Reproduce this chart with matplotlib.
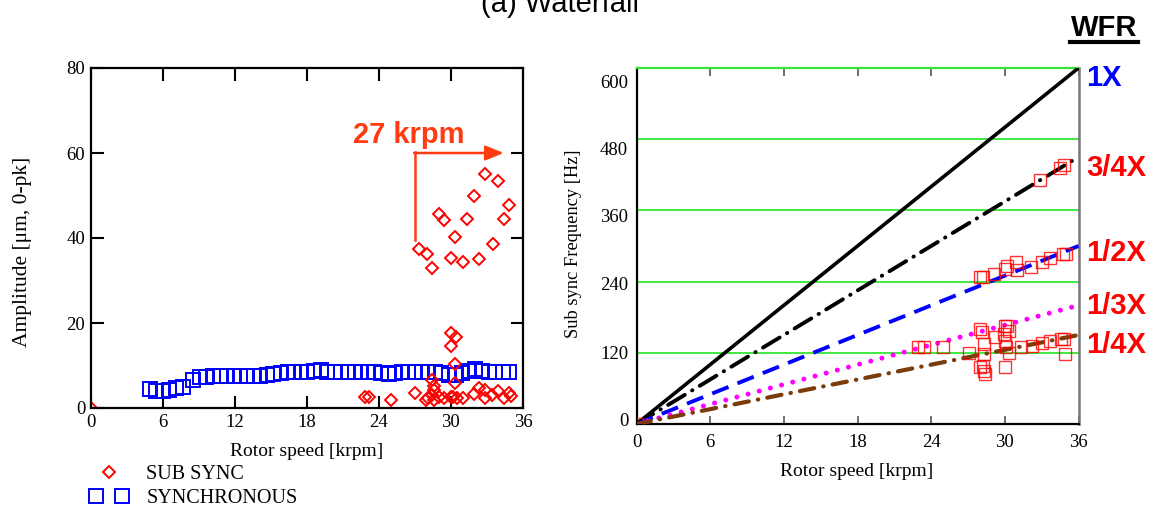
import matplotlib
matplotlib.use('Agg')
import matplotlib.pyplot as plt
from matplotlib.legend_handler import HandlerLine2D
from matplotlib.lines import Line2D

plt.rcParams['font.family'] = 'Liberation Serif'

# left panel: amplitude vs rotor speed
sync_krpm = [4.9, 5.4, 6.0, 6.5, 7.1, 7.7, 8.5, 9.1, 9.6, 10.2, 10.8, 11.3, 11.9, 12.4, 13.0,
             13.6, 14.1, 14.7, 15.2, 15.8, 16.4, 16.9, 17.5, 18.0, 18.6, 19.2, 19.7, 20.3,
             20.8, 21.4, 22.0, 22.5, 23.1, 23.6, 24.2, 24.8, 25.3, 25.9, 26.4, 27.0, 27.6,
             28.1, 28.7, 29.2, 29.8, 30.4, 30.9, 31.5, 32.0, 32.6, 33.2, 33.7, 34.3, 34.8]
sync_amp = [4.4, 4.0, 4.0, 4.2, 4.6, 5.0, 6.7, 7.2, 7.4, 7.5, 7.5, 7.5, 7.5, 7.5, 7.5,
            7.6, 7.6, 7.8, 8.1, 8.3, 8.4, 8.4, 8.4, 8.5, 8.6, 8.9, 8.5, 8.4,
            8.4, 8.4, 8.4, 8.4, 8.4, 8.4, 8.3, 8.0, 8.2, 8.4, 8.4, 8.4, 8.4,
            8.4, 8.4, 8.3, 7.8, 7.8, 8.2, 8.8, 9.2, 8.6, 8.4, 8.4, 8.4, 8.4]

sub_krpm = [0.0, 27.35, 28.0, 28.4, 29.0, 29.4, 30.0, 30.3, 31.0, 31.3, 31.9, 32.3, 32.8,
            33.5, 33.9, 34.4, 34.8,
            30.0, 30.4, 30.0, 30.3, 30.3,
            22.85, 23.2, 25.0, 27.0, 28.4, 28.1, 28.4, 28.6, 29.0, 29.4, 30.0, 30.2, 30.5,
            31.0, 31.9, 32.3, 32.8, 32.8, 33.4, 33.9, 34.4, 34.8, 35.0, 27.9, 28.6, 28.6]
sub_amp = [0.0, 37.3, 36.2, 33.0, 45.6, 44.2, 35.2, 40.3, 34.3, 44.4, 50.0, 35.1, 55.1,
           38.7, 53.3, 44.5, 47.8,
           17.6, 16.6, 14.7, 10.3, 5.8,
           2.7, 2.6, 1.9, 3.6, 6.6, 2.3, 3.1, 4.3, 2.7, 2.3, 2.7, 2.6, 2.3,
           2.3, 3.3, 4.6, 2.3, 4.3, 3.1, 3.9, 2.3, 3.5, 2.9, 1.9, 5.1, 1.9]

# right panel: sub synchronous frequency vs rotor speed
wfr_krpm = [0.0, 22.9, 23.4, 25.0, 27.1, 28.0, 28.1, 28.3, 28.3, 28.2, 28.3, 28.4, 28.0,
            29.2, 30.0, 30.2, 30.3, 29.9, 30.0, 30.1, 30.3, 30.0, 31.3, 32.2, 33.0, 33.7,
            34.6, 34.8, 34.9,
            28.0, 28.2, 29.1, 30.0, 30.2, 30.9, 31.0, 32.1, 33.0, 33.7, 34.7, 35.0,
            32.9, 34.5, 34.8]
wfr_hz = [0, 130, 130, 130, 120, 160, 155, 135, 118, 98, 90, 85, 96,
          146, 166, 166, 157, 152, 140, 129, 120, 96, 129, 132, 137, 140,
          143, 143, 118,
          248, 248, 253, 262, 267, 273, 259, 264, 273, 279, 287, 287,
          411, 431, 436]

order_names = ['1X', '3/4X', '1/2X', '1/3X', '1/4X']
order_ends_krpm = [0, 36]
order_ends_hz = [[0, 600], [0, 450], [0, 300], [0, 200], [0, 150]]
grid_hz = [120, 240, 360, 480, 600]
x_ticks = [0, 6, 12, 18, 24, 30, 36]
amp_ticks = [0, 20, 40, 60, 80]
hz_labels = ['0', '120', '240', '360', '480', '600']
hz_label_pos = [7, 121, 237, 352, 464, 577]

W, H = 1151, 517
fig = plt.figure(figsize=(W / 100, H / 100), dpi=100)

# ---- left: waterfall amplitude
ax1 = fig.add_axes([90.9 / W, 109 / H, 432 / W, 340 / H])
ax1.plot(sync_krpm, sync_amp, ls='none', marker='s', ms=9.5, mfc='none', mec='#0000ff',
         mew=1.4, label='SYNCHRONOUS')
ax1.plot(sub_krpm, sub_amp, ls='none', marker='D', ms=6.5, mfc='none', mec='#ff0000',
         mew=1.4, label='SUB SYNC')
ax1.set_xlim(0, 36)
ax1.set_ylim(0, 80)
ax1.set_xticks(x_ticks)
ax1.set_yticks(amp_ticks)
ax1.tick_params(direction='in', length=9, width=1.5, top=True, right=True,
                labelsize=13.5, pad=4)
for s in ax1.spines.values():
    s.set_linewidth(1.6)

orange = '#ff3b12'
ax1.plot([27, 27], [39.5, 60.3], color=orange, lw=1.8)
ax1.annotate('', xy=(34.4, 60), xytext=(26.93, 60),
             arrowprops=dict(arrowstyle='-|>,head_length=1.1,head_width=0.45',
                             color=orange, lw=1.8, shrinkA=0, shrinkB=0))
ax1.text(26.5, 64.2, '27 krpm', color=orange, fontsize=21, fontweight='bold',
         family='Liberation Sans', ha='center', va='center')

fig.text(23 / W, 1 - 252 / H, 'Amplitude [μm, 0-pk]', rotation=90, ha='center',
         va='center', fontsize=15.5)
fig.text(307 / W, 1 - 452 / H, 'Rotor speed [krpm]', ha='center', va='center', fontsize=14)

h_sync, h_sub = ax1.get_lines()[0], ax1.get_lines()[1]
fig.legend([h_sub, h_sync], ['SUB SYNC', 'SYNCHRONOUS'], loc='upper left',
           bbox_to_anchor=(90 / W, 1 - 465 / H), frameon=False, fontsize=14.5,
           handlelength=1.9, handletextpad=0.9, labelspacing=0.26, borderpad=0,
           borderaxespad=0,
           handler_map={h_sub: HandlerLine2D(numpoints=1),
                        h_sync: HandlerLine2D(numpoints=2)})

# ---- right: waterfall frequency
ax2 = fig.add_axes([636.5 / W, 93 / H, 442 / W, 356 / H])
for g in grid_hz:
    ax2.axhline(g, color='#33e633', lw=1.3, zorder=1)
styles = [dict(color='black', ls='-', lw=2.6),
          dict(color='black', ls=(0, (5, 2.2, 0.1, 2.2)), lw=2.8, dash_capstyle='round'),
          dict(color='#0000ff', ls=(0, (4.5, 2.5)), lw=2.8),
          dict(color='#ff00ff', ls=(0, (0.01, 2.3)), lw=3.6, dash_capstyle='round'),
          dict(color='#7a3c0a', ls=(0, (3.5, 2.2, 0.1, 2.2)), lw=3.0, dash_capstyle='round')]
for hz, st in zip(order_ends_hz, styles):
    ax2.plot(order_ends_krpm, hz, zorder=3, **st)
ax2.plot(wfr_krpm, wfr_hz, ls='none', marker='s', ms=8.5, mfc='none', mec='#ff0000',
         mew=1.0, alpha=0.8, zorder=4)
ax2.set_xlim(0, 36)
ax2.set_ylim(0, 600)
ax2.set_xticks(x_ticks)
ax2.set_yticks(hz_label_pos, hz_labels)
ax2.tick_params(axis='x', direction='in', length=6, width=1.2, top=True, colors='#555555',
                labelcolor='black', labelsize=13.5, pad=7)
ax2.tick_params(axis='y', length=0, labelsize=13.5, pad=6)
ax2.spines['left'].set_linewidth(1.6)
ax2.spines['bottom'].set_linewidth(1.6)
ax2.spines['right'].set_color('#777777')
ax2.spines['right'].set_linewidth(1.8)
ax2.spines['top'].set_color('#33e633')
ax2.spines['top'].set_linewidth(1.6)

fig.text(574 / W, 1 - 244 / H, 'Sub sync Frequency [Hz]', rotation=90, ha='center',
         va='center', fontsize=13.3)
fig.text(857 / W, 1 - 472 / H, 'Rotor speed [krpm]', ha='center', va='center', fontsize=14)

label_y = [78, 168, 253, 306, 345]
label_c = ['#0000ff', '#ff0000', '#ff0000', '#ff0000', '#ff0000']
for name, yy, c in zip(order_names, label_y, label_c):
    fig.text(1086 / W, 1 - yy / H, name, color=c, fontsize=21, fontweight='bold',
             family='Liberation Sans', ha='left', va='center')

fig.text(1104 / W, 1 - 28 / H, 'WFR', fontsize=21, fontweight='bold',
         family='Liberation Sans', ha='center', va='center')
fig.add_artist(Line2D([1070 / W, 1138 / W], [1 - 42 / H, 1 - 42 / H], color='black', lw=3))

fig.text(560 / W, 1 - 4 / H, '(a) Waterfall', fontsize=21, family='Liberation Sans',
         ha='center', va='center')

fig.savefig('out.png', dpi=100)
